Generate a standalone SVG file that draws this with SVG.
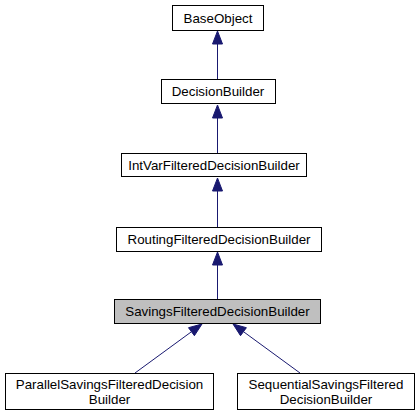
<svg xmlns="http://www.w3.org/2000/svg" width="419" height="416" viewBox="0 0 419 416">
<style>
.box{fill:#ffffff;stroke:#000000;stroke-width:1}
.cur{fill:#bfbfbf;stroke:#000000;stroke-width:1}
text{font-family:"Liberation Sans",Arial,Helvetica,sans-serif;font-size:13.33px;fill:#000000;text-anchor:middle}
.edge{stroke:#191970;stroke-width:1;fill:none}
.head{fill:#191970;stroke:#191970;stroke-width:1}
</style>
<rect width="419" height="416" fill="#ffffff"/>
<g id="edges">
<line class="edge" x1="217.5" y1="43" x2="217.5" y2="79"/>
<polygon class="head" points="217.5,31 212.5,44 222.5,44"/>
<line class="edge" x1="217.5" y1="117" x2="217.5" y2="153"/>
<polygon class="head" points="217.5,105 212.5,118 222.5,118"/>
<line class="edge" x1="217.5" y1="190" x2="217.5" y2="227"/>
<polygon class="head" points="217.5,178 212.5,191 222.5,191"/>
<line class="edge" x1="217.5" y1="264" x2="217.5" y2="299"/>
<polygon class="head" points="217.5,252 212.5,265 222.5,265"/>
<line class="edge" x1="191.5" y1="331.7" x2="135" y2="373"/>
<polygon class="head" points="202,324 194.4,335.7 188.5,327.7"/>
<line class="edge" x1="243.5" y1="331.7" x2="300" y2="373"/>
<polygon class="head" points="233,324 240.5,335.7 246.4,327.7"/>
</g>
<g id="BaseObject">
<rect class="box" x="172.5" y="5.5" width="91" height="25"/>
<text x="218" y="22.5">BaseObject</text>
</g>
<g id="DecisionBuilder">
<rect class="box" x="161.5" y="79.5" width="114" height="24"/>
<text x="218" y="96">DecisionBuilder</text>
</g>
<g id="IntVarFilteredDecisionBuilder">
<rect class="box" x="121.5" y="153.5" width="185" height="23"/>
<text x="214" y="170">IntVarFilteredDecisionBuilder</text>
</g>
<g id="RoutingFilteredDecisionBuilder">
<rect class="box" x="116.5" y="227.5" width="205" height="24"/>
<text x="219" y="244">RoutingFilteredDecisionBuilder</text>
</g>
<g id="SavingsFilteredDecisionBuilder">
<rect class="cur" x="114.5" y="299.5" width="206" height="24"/>
<text x="217.5" y="316">SavingsFilteredDecisionBuilder</text>
</g>
<g id="ParallelSavingsFilteredDecisionBuilder">
<rect class="box" x="5.5" y="373.5" width="208" height="36"/>
<text x="109.5" y="389">ParallelSavingsFilteredDecision</text>
<text x="109.5" y="404">Builder</text>
</g>
<g id="SequentialSavingsFilteredDecisionBuilder">
<rect class="box" x="237.5" y="373.5" width="177" height="36"/>
<text x="326" y="389">SequentialSavingsFiltered</text>
<text x="326" y="404">DecisionBuilder</text>
</g>
</svg>
